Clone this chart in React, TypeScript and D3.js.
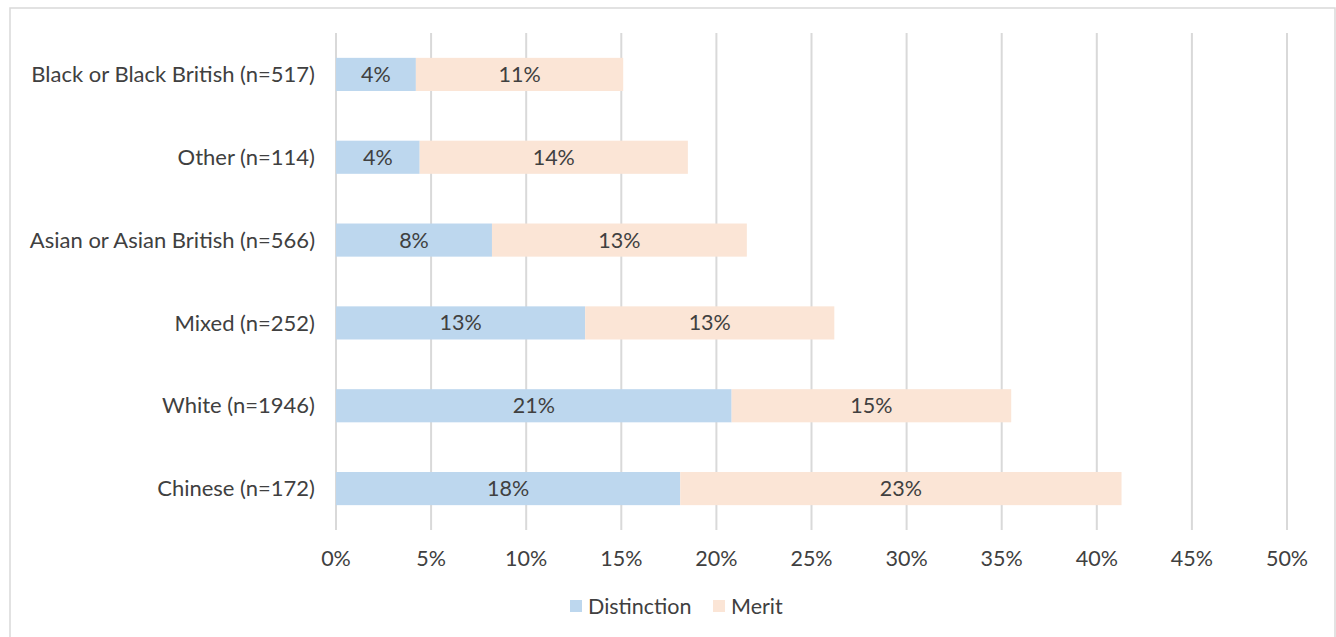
import React from "react";
import * as d3 from "d3";

// Ethnic groups, top to bottom
const categories = [
  "Black or Black British (n=517)",
  "Other (n=114)",
  "Asian or Asian British (n=566)",
  "Mixed (n=252)",
  "White (n=1946)",
  "Chinese (n=172)",
];
// Share of students awarded each classification (fractions)
const distinction = [0.042, 0.044, 0.082, 0.131, 0.208, 0.181];
const merit = [0.109, 0.141, 0.134, 0.131, 0.147, 0.232];
const seriesNames = ["Distinction", "Merit"];
const seriesColors = ["#BDD7EE", "#FBE5D6"];
const xTicks = [0, 0.05, 0.1, 0.15, 0.2, 0.25, 0.3, 0.35, 0.4, 0.45, 0.5];

const W = 1336;
const H = 637;
const FONT = "Lato, 'Open Sans', sans-serif";
const TEXT = "#404040";
const FS = 21.5;

export default function App() {
  const x = d3.scaleLinear().domain([0, 0.5]).range([336, 1287]);
  const y = d3
    .scaleBand<string>()
    .domain(categories)
    .range([33, 530])
    .paddingInner(0.6)
    .paddingOuter(0.3);
  const pct = d3.format(".0%");

  const rows = categories.map((c, i) => ({ c, d: distinction[i], m: merit[i] }));
  const stack = d3
    .stack<{ c: string; d: number; m: number }>()
    .keys(["d", "m"])(rows);

  const legendItems = [
    { name: seriesNames[0], color: seriesColors[0], x: 570 },
    { name: seriesNames[1], color: seriesColors[1], x: 713 },
  ];

  return (
    <svg
      width={W}
      height={H}
      style={{ position: "absolute", left: 0, top: 0, background: "#fff" }}
      fontFamily={FONT}
    >
      <rect x={10} y={8} width={1325} height={H} fill="#fff" stroke="#D9D9D9" strokeWidth={1.5} />
      {xTicks.map((t) => (
        <line
          key={t}
          x1={x(t)}
          x2={x(t)}
          y1={33}
          y2={530}
          stroke="#D9D9D9"
          strokeWidth={2}
        />
      ))}
      {stack.map((layer, li) =>
        layer.map((seg, i) => {
          const y0 = y(categories[i])!;
          const x0 = x(seg[0]);
          const x1 = x(seg[1]);
          return (
            <g key={`${li}-${i}`}>
              <rect
                x={x0}
                y={y0}
                width={x1 - x0}
                height={y.bandwidth()}
                fill={seriesColors[li]}
              />
              <text
                x={(x0 + x1) / 2}
                y={y0 + y.bandwidth() / 2}
                dy="0.35em"
                textAnchor="middle"
                fontSize={FS}
                fill={TEXT}
              >
                {pct(seg[1] - seg[0])}
              </text>
            </g>
          );
        })
      )}
      {categories.map((c) => (
        <text
          key={c}
          x={315}
          y={y(c)! + y.bandwidth() / 2}
          dy="0.35em"
          textAnchor="end"
          fontSize={FS + 0.5}
          fill={TEXT}
        >
          {c}
        </text>
      ))}
      {xTicks.map((t) => (
        <text
          key={t}
          x={x(t)}
          y={558}
          dy="0.35em"
          textAnchor="middle"
          fontSize={FS}
          fill={TEXT}
        >
          {pct(t)}
        </text>
      ))}
      {legendItems.map((l) => (
        <g key={l.name}>
          <rect x={l.x} y={600} width={12} height={12} fill={l.color} />
          <text x={l.x + 18} y={606} dy="0.35em" fontSize={FS} fill={TEXT}>
            {l.name}
          </text>
        </g>
      ))}
    </svg>
  );
}
